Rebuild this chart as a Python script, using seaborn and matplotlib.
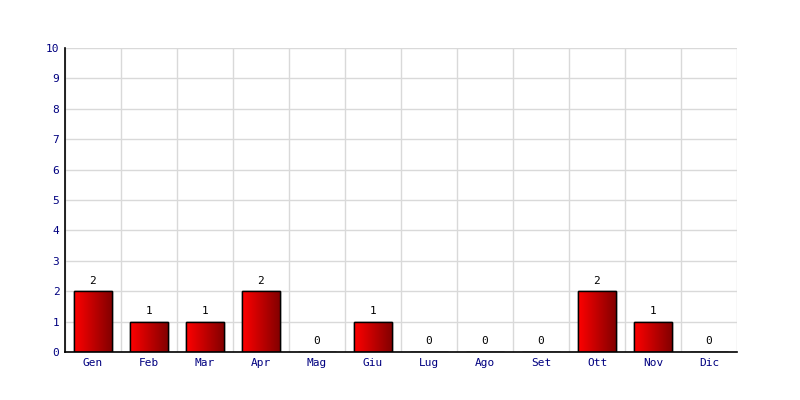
import numpy as np
import pandas as pd
import matplotlib
matplotlib.use("Agg")
import matplotlib.pyplot as plt
import seaborn as sns
from matplotlib.colors import LinearSegmentedColormap

months = ["Gen", "Feb", "Mar", "Apr", "Mag", "Giu", "Lug", "Ago", "Set", "Ott", "Nov", "Dic"]
values = [2, 1, 1, 2, 0, 1, 0, 0, 0, 2, 1, 0]
yticks = list(range(0, 11))

df = pd.DataFrame({"month": months, "value": values})

sns.set_style("white")
plt.rcParams["font.family"] = ["DejaVu Sans Mono"]

fig = plt.figure(figsize=(8, 4), dpi=100)
ax = fig.add_axes([65/800, 1-352/400, (737-65)/800, (352-48)/400])

sns.barplot(data=df, x="month", y="value", ax=ax, width=0.68,
            color="#cc0000", edgecolor="black", linewidth=1.0, zorder=3)

cmap = LinearSegmentedColormap.from_list("rd", ["#ff0000", "#800000"])
grad = np.linspace(0, 1, 256).reshape(1, -1)
for p in ax.patches:
    x0, y0 = p.get_x(), p.get_y()
    w, h = p.get_width(), p.get_height()
    if h <= 0:
        continue
    im = ax.imshow(grad, cmap=cmap, aspect="auto", extent=(x0, x0 + w, y0, y0 + h),
                   zorder=3.5, interpolation="bicubic")
    im.set_clip_path(p)
    # redraw edge on top
    ax.add_patch(plt.Rectangle((x0, y0), w, h, fill=False, edgecolor="black",
                               linewidth=1.0, zorder=4))

for i, v in enumerate(values):
    ax.annotate(str(v), (i, v), xytext=(0, 4), textcoords="offset points",
                ha="center", va="bottom", fontsize=8, color="black", zorder=5)

ax.set_xlim(-0.5, 11.5)
ax.set_ylim(0, 10)
ax.set_yticks(yticks)
ax.set_xticks(range(len(months)))
ax.set_xticklabels(months)
ax.set_xticks(np.arange(-0.5, 12, 1), minor=True)
ax.grid(False)
ax.grid(True, axis="y", which="major", color="#d9d9d9", linewidth=1, zorder=0)
ax.grid(True, axis="x", which="minor", color="#d9d9d9", linewidth=1, zorder=0)
ax.tick_params(axis="both", which="both", length=0, labelsize=8, colors="#000080", pad=4)
ax.set_xlabel("")
ax.set_ylabel("")
for s in ["top", "right"]:
    ax.spines[s].set_visible(False)
for s in ["left", "bottom"]:
    ax.spines[s].set_color("black")
    ax.spines[s].set_linewidth(1.2)
    ax.spines[s].set_zorder(6)

fig.savefig("out.png", dpi=100)
